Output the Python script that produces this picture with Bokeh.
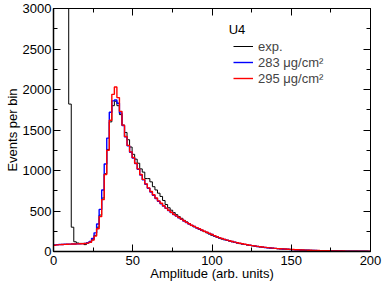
from bokeh.plotting import figure
from bokeh.models import (Range1d, SingleIntervalTicker, LinearAxis, Legend,
                          LegendItem, Label, CustomLabelingPolicy)
from bokeh.embed import file_html
from bokeh.resources import INLINE

BIN_WIDTH = 1.6  # arb. units per bin

exp_counts = [
    9000, 9000, 9000, 9000, 9000, 9000, 1820, 300, 120, 105,
    100, 100, 85, 105, 115, 145, 200, 300, 450, 660,
    960, 1260, 1600, 1800, 1855, 1800, 1690, 1560, 1470, 1380,
    1290, 1200, 1140, 1090, 1020, 980, 900, 900, 860, 800,
    760, 720, 680, 630, 580, 540, 510, 480, 455, 430,
    410, 385, 365, 345, 320, 305, 290, 275, 258, 245,
    230, 215, 200, 188, 176, 164, 153, 145, 136, 128,
    120, 112, 104, 97, 91, 86, 80, 75, 70, 64,
    60, 56, 52, 49, 46, 43, 40, 37, 34, 32,
    30, 29, 27, 25, 23, 22, 20, 19, 18, 16,
    15, 14, 14, 12, 12, 11, 10, 9, 9, 8,
    7, 7, 6, 6, 5, 5, 5, 4, 4, 4,
    3, 3, 3, 2, 2]

sim_283 = [
    80, 83, 86, 87, 89, 90, 91, 92, 93, 94,
    95, 97, 100, 108, 125, 160, 230, 340, 520, 760,
    1080, 1400, 1720, 1860, 1870, 1830, 1710, 1555, 1415, 1305,
    1225, 1155, 1085, 1015, 945, 885, 830, 780, 735, 695,
    655, 620, 590, 560, 532, 506, 481, 457, 437, 417,
    397, 377, 358, 340, 323, 308, 293, 278, 263, 249,
    236, 223, 209, 195, 182, 170, 159, 149, 140, 131,
    123, 115, 107, 100, 94, 88, 82, 77, 72, 67,
    62, 58, 54, 50, 47, 44, 41, 38, 35, 33,
    31, 29, 27, 25, 23, 21, 20, 18, 17, 16,
    15, 14, 13, 12, 11, 10, 10, 9, 8, 8,
    7, 7, 6, 6, 5, 5, 5, 4, 4, 4,
    3, 3, 3, 3, 2]

sim_295 = [
    78, 82, 85, 87, 88, 90, 91, 92, 93, 94,
    95, 96, 98, 104, 115, 140, 190, 280, 430, 640,
    950, 1250, 1620, 1940, 2030, 1900, 1730, 1560, 1420, 1310,
    1230, 1160, 1090, 1020, 950, 890, 835, 785, 740, 700,
    660, 625, 595, 565, 535, 510, 485, 460, 440, 420,
    400, 380, 360, 342, 325, 310, 295, 280, 265, 250,
    237, 224, 210, 196, 183, 171, 160, 150, 141, 132,
    124, 116, 108, 101, 95, 89, 83, 78, 73, 68,
    63, 59, 55, 51, 48, 45, 42, 39, 36, 34,
    32, 30, 28, 26, 24, 22, 21, 19, 18, 17,
    16, 15, 14, 13, 12, 11, 10, 10, 9, 8,
    8, 7, 7, 6, 6, 5, 5, 5, 4, 4,
    4, 3, 3, 3, 3]

series_labels = ["exp.", "283 \u03bcg/cm\u00b2", "295 \u03bcg/cm\u00b2"]
series_colors = ["black", "#0000ff", "#ff0000"]
title_text = "U4"
x_label = "Amplitude (arb. units)"
y_label = "Events per bin"

FONT = "Liberation Sans"
FS = "13px"


def edges_and_values(vals):
    xs = [i * BIN_WIDTH for i in range(len(vals) + 1)]
    ys = list(vals) + [vals[-1]]
    return xs, ys


p = figure(width=382, height=286, output_backend="svg", toolbar_location=None,
           x_range=Range1d(0, 200), y_range=Range1d(0, 3000),
           min_border_left=53, min_border_right=12, min_border_top=8,
           min_border_bottom=35)
p.grid.visible = False
p.background_fill_color = "white"
p.border_fill_color = "white"
p.outline_line_color = "black"
p.outline_line_width = 1

renderers = []
for vals, col, lw in zip([exp_counts, sim_283, sim_295], series_colors, [1, 1.4, 1.4]):
    xs, ys = edges_and_values(vals)
    r = p.step(xs, ys, mode="after", line_color=col, line_width=lw)
    renderers.append(r)

no_labels = CustomLabelingPolicy(code="""
for (let i = 0; i < indices.size; i++) { indices.unset(i) }
return indices
""")


def style_axis(ax, show_labels=True):
    ax.major_tick_in = 7
    ax.major_tick_out = 0
    ax.minor_tick_in = 4
    ax.minor_tick_out = 0
    ax.major_tick_line_color = "black"
    ax.minor_tick_line_color = "black"
    ax.major_label_text_font = FONT
    ax.major_label_text_color = "black"
    ax.axis_label_text_font = FONT
    ax.axis_label_text_font_style = "normal"
    ax.axis_label_text_font_size = FS
    ax.axis_label_text_color = "black"
    if show_labels:
        ax.major_label_text_font_size = FS
        ax.axis_line_width = 1.5
        ax.axis_line_color = "black"
    else:
        ax.major_label_policy = no_labels
        ax.major_label_text_font_size = "0px"
        ax.major_label_standoff = 0
        ax.axis_line_color = None


xax = p.xaxis[0]
yax = p.yaxis[0]
xax.ticker = SingleIntervalTicker(interval=50, num_minor_ticks=2)
yax.ticker = SingleIntervalTicker(interval=500, num_minor_ticks=2)
xax.axis_label = x_label
yax.axis_label = y_label
style_axis(xax)
style_axis(yax)
xax.major_label_standoff = 4
xax.axis_label_standoff = -2
yax.major_label_standoff = 2
yax.axis_label_standoff = 0

top_ax = LinearAxis(ticker=SingleIntervalTicker(interval=50, num_minor_ticks=2))
right_ax = LinearAxis(ticker=SingleIntervalTicker(interval=500, num_minor_ticks=2))
style_axis(top_ax, False)
style_axis(right_ax, False)
p.add_layout(top_ax, "above")
p.add_layout(right_ax, "right")

legend = Legend(items=[LegendItem(label=l, renderers=[r]) for l, r in zip(series_labels, renderers)],
                location=(180, 165), padding=0, margin=0, spacing=0,
                label_height=16, glyph_height=16, glyph_width=20, label_standoff=5,
                label_text_font=FONT, label_text_font_size=FS,
                background_fill_alpha=0, border_line_color=None)
p.add_layout(legend)

p.add_layout(Label(x=110.5, y=2740, text=title_text, text_font=FONT, text_font_size=FS,
                   text_baseline="middle", text_align="left", text_color="black"))

open("out.html", "w").write(file_html(p, INLINE))
